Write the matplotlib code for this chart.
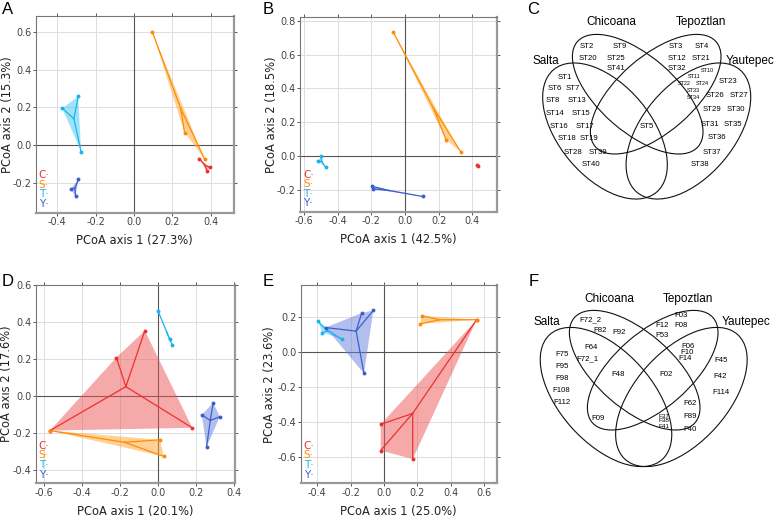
import numpy as np
import matplotlib
matplotlib.use("Agg")
import matplotlib.pyplot as plt
from matplotlib.patches import Ellipse, Polygon

plt.rcParams['font.family'] = 'DejaVu Sans'

# ---- PCoA data (axis1, axis2) per group ----
a_C = [(0.34, -0.07), (0.38, -0.135), (0.395, -0.115)]
a_S = [(0.096, 0.598), (0.369, -0.074), (0.264, 0.067)]
a_T = [(-0.374, 0.195), (-0.291, 0.259), (-0.276, -0.034)]
a_Y = [(-0.29, -0.18), (-0.33, -0.23), (-0.305, -0.27)]

b_C = [(0.43, -0.055), (0.435, -0.06)]
b_S = [(-0.07, 0.732), (0.331, 0.025), (0.244, 0.095)]
b_T = [(-0.50, 0.0), (-0.515, -0.032), (-0.472, -0.068)]
b_Y = [(-0.195, -0.18), (-0.19, -0.195), (0.105, -0.24)]

d_C = [(-0.57, -0.185), (-0.07, 0.355), (-0.22, 0.21), (0.18, -0.17)]
d_S = [(-0.57, -0.185), (0.01, -0.235), (0.03, -0.325)]
d_T = [(0.0, 0.46), (0.075, 0.275), (0.06, 0.31)]
d_Y = [(0.23, -0.10), (0.29, -0.035), (0.325, -0.11), (0.255, -0.275)]

e_C = [(0.555, 0.187), (-0.02, -0.413), (-0.02, -0.563), (0.172, -0.612)]
e_S = [(0.216, 0.163), (0.226, 0.21), (0.555, 0.187)]
e_T = [(-0.395, 0.177), (-0.37, 0.113), (-0.25, 0.075)]
e_Y = [(-0.35, 0.142), (-0.134, 0.225), (-0.064, 0.240), (-0.12, -0.121)]

groups = ['C', 'S', 'T', 'Y']
line_cols = {'C': '#EE3030', 'S': '#FF8C00', 'T': '#19B4EE', 'Y': '#3B5FD0'}
fill_cols = {'C': '#EE5555', 'S': '#FFA530', 'T': '#40C8F5', 'Y': '#6680DD'}

# ---- Venn data ----
venn_names = ['Salta', 'Chicoana', 'Tepoztlan', 'Yautepec']
c_only_salta = ['ST1', 'ST6', 'ST7', 'ST8', 'ST13', 'ST14', 'ST15', 'ST16', 'ST17',
                'ST18', 'ST19', 'ST28', 'ST39', 'ST40']
c_only_chic = ['ST2', 'ST9', 'ST20', 'ST25', 'ST41']
c_only_tepo = ['ST3', 'ST4', 'ST12', 'ST21', 'ST32']
c_tepo_yaut = ['ST10', 'ST11', 'ST22', 'ST24', 'ST33', 'ST34']
c_only_yaut = ['ST23', 'ST26', 'ST27', 'ST29', 'ST30', 'ST31', 'ST35', 'ST36', 'ST37', 'ST38']
c_all = ['ST5']

f_only_salta = ['F75', 'F95', 'F98', 'F108', 'F112']
f_only_chic = ['F72_2', 'F82', 'F92']
f_salta_chic = ['F64', 'F72_1']
f_only_tepo = ['F03', 'F08', 'F12', 'F53']
f_tepo_yaut = ['F06', 'F10', 'F14']
f_only_yaut = ['F45', 'F42', 'F114']
f_sct = ['F48']
f_cty = ['F02']
f_salta_tepo = ['F09']
f_scy = ['F37', 'F38', 'F41']
f_chic_yaut = ['F62', 'F89', 'F40']

W, H = 780, 518
fig = plt.figure(figsize=(W / 100, H / 100), dpi=100)


def px_axes(l, r, t, b):
    return fig.add_axes([l / W, 1 - b / H, (r - l) / W, (b - t) / H])


def convex_hull(pts):
    p = sorted(set(pts))
    if len(p) < 3:
        return p
    def cross(o, a, b):
        return (a[0] - o[0]) * (b[1] - o[1]) - (a[1] - o[1]) * (b[0] - o[0])
    lower, upper = [], []
    for q in p:
        while len(lower) >= 2 and cross(lower[-2], lower[-1], q) <= 0:
            lower.pop()
        lower.append(q)
    for q in reversed(p):
        while len(upper) >= 2 and cross(upper[-2], upper[-1], q) <= 0:
            upper.pop()
        upper.append(q)
    return lower[:-1] + upper[:-1]


def pcoa_panel(ax, data, xlim, ylim, xticks, yticks, xlab, ylab, ylab_x):
    ax.set_xlim(xlim)
    ax.set_ylim(ylim)
    ax.set_xticks(xticks)
    ax.set_yticks(yticks)
    ax.set_xticklabels([f'{v:.1f}' for v in xticks])
    ax.set_yticklabels([f'{v:.1f}' for v in yticks])
    ax.grid(True, color='#dddddd', lw=0.7)
    ax.set_axisbelow(True)
    ax.axhline(0, color='#555555', lw=0.8, zorder=1)
    ax.axvline(0, color='#555555', lw=0.8, zorder=1)
    ax.tick_params(labelsize=7, labelcolor='#444444', length=2, width=0.7,
                   color='#555555', direction='out', top=True, right=True, pad=1.2)
    for s in ['left', 'top']:
        ax.spines[s].set_color('#777777')
        ax.spines[s].set_linewidth(0.8)
    for s in ['right', 'bottom']:
        ax.spines[s].set_color('#999999')
        ax.spines[s].set_linewidth(1.6)
    ax.set_xlabel(xlab, fontsize=8.3, color='#222222', labelpad=5)
    ax.set_ylabel(ylab, fontsize=8.3, color='#222222')
    ax.yaxis.set_label_coords(ylab_x, 0.5)

    for g, pts in zip(groups, data):
        arr = np.array(pts)
        cx, cy = arr.mean(axis=0)
        h = convex_hull(pts)
        if len(h) >= 3:
            ax.add_patch(Polygon(h, closed=True, facecolor=fill_cols[g],
                                 edgecolor='none', alpha=0.5, zorder=2))
        for x, y in pts:
            ax.plot([cx, x], [cy, y], color=line_cols[g], lw=0.9, zorder=3)
        ax.plot(arr[:, 0], arr[:, 1], 'o', ms=1.8, color=line_cols[g], zorder=4)

    for i, g in enumerate(groups):
        ax.text(0.015, 0.19 - i * 0.049, g + '\u00b7', transform=ax.transAxes,
                color=line_cols[g], fontsize=7.5, va='center', ha='left')


axA = px_axes(35.7, 234, 16, 212.5)
pcoa_panel(axA, [a_C, a_S, a_T, a_Y], (-0.513, 0.522), (-0.355, 0.683),
           [-0.4, -0.2, 0.0, 0.2, 0.4], [-0.2, 0.0, 0.2, 0.4, 0.6],
           'PCoA axis 1 (27.3%)', 'PCoA axis 2 (15.3%)', -0.11)

axB = px_axes(300, 497.3, 16.7, 211.7)
pcoa_panel(axB, [b_C, b_S, b_T, b_Y], (-0.625, 0.549), (-0.33, 0.824),
           [-0.6, -0.4, -0.2, 0.0, 0.2, 0.4], [-0.2, 0.0, 0.2, 0.4, 0.6, 0.8],
           'PCoA axis 1 (42.5%)', 'PCoA axis 2 (18.5%)', -0.109)

axD = px_axes(35.7, 235, 285, 483.3)
pcoa_panel(axD, [d_C, d_S, d_T, d_Y], (-0.645, 0.405), (-0.47, 0.602),
           [-0.6, -0.4, -0.2, 0.0, 0.2, 0.4], [-0.4, -0.2, 0.0, 0.2, 0.4, 0.6],
           'PCoA axis 1 (20.1%)', 'PCoA axis 2 (17.6%)', -0.113)

axE = px_axes(300.7, 496.7, 285, 483.3)
pcoa_panel(axE, [e_C, e_S, e_T, e_Y], (-0.499, 0.675), (-0.751, 0.386),
           [-0.4, -0.2, 0.0, 0.2, 0.4, 0.6], [-0.6, -0.4, -0.2, 0.0, 0.2],
           'PCoA axis 1 (25.0%)', 'PCoA axis 2 (23.6%)', -0.126)

# ---- Venn diagrams, drawn in an axes measured in figure pixels ----
axV = px_axes(505, 780, 0, 518)
axV.set_xlim(505, 780)
axV.set_ylim(518, 0)
axV.axis('off')

# (cx, cy, semi-major, semi-minor, angle) for Salta, Chicoana, Tepoztlan, Yautepec
venn_c = [(605, 131, 80, 46, 50), (637.7, 94.2, 80, 38, 41),
          (655.7, 94.2, 80, 38, -41), (688.4, 131, 80, 46, -50)]
venn_f = [(606, 397, 84, 46, 48), (634.7, 370.2, 80, 38, 41),
          (652.7, 370.2, 80, 38, -41), (681.4, 397, 84, 46, -48)]


def draw_venn(shape, name_pos):
    for (cx, cy, a, b, ang) in shape:
        axV.add_patch(Ellipse((cx, cy), 2 * a, 2 * b, angle=ang, fill=False,
                              edgecolor='#111111', lw=0.8))
    for name, (x, y) in zip(venn_names, name_pos):
        axV.text(x, y, name, fontsize=8.5, family='Liberation Sans', ha='center', va='center')


def place(labels, positions, size=5.6):
    for lab, (x, y) in zip(labels, positions):
        axV.text(x, y, lab, fontsize=size, family='Liberation Sans', ha='center', va='center')


draw_venn(venn_c, [(546, 61), (611.7, 22), (700.7, 22), (750, 60.7)])
place(c_only_salta, [(565, 77.3), (554.3, 88.3), (573.3, 88.3), (553.3, 100), (576.7, 100),
                     (555, 113.3), (580.7, 113.3), (559.3, 126), (585, 126), (566.7, 138.3),
                     (589.3, 138.3), (573.3, 152.7), (598.3, 152.7), (591, 164.3)])
place(c_only_chic, [(586.7, 46.7), (620, 46.7), (588.3, 58.3), (616, 58.3), (616, 69)])
place(c_only_tepo, [(675.7, 46.7), (701.7, 46.7), (676.7, 58.3), (700.7, 58.3), (676.7, 69)])
place(c_tepo_yaut, [(707.3, 71), (694, 76.7), (684.3, 83.3), (702.7, 83.3), (693.3, 90.7),
                    (693.3, 97.7)], size=4.0)
place(c_only_yaut, [(728.3, 81.7), (715, 95.7), (739.3, 95.7), (711.7, 109.3), (736, 109.3),
                    (710, 125), (732.7, 125), (716.7, 137.3), (711.7, 152.7), (700, 165)])
place(c_all, [(646.7, 126)])

draw_venn(venn_f, [(546.7, 321.7), (609.3, 299), (687.7, 299), (746, 321.7)])
place(f_only_salta, [(561.7, 355), (561.7, 366.7), (561.7, 378.3), (561.7, 390), (561.7, 402.7)])
place(f_only_chic, [(590, 320), (600, 331), (619.3, 332)])
place(f_salta_chic, [(591, 347.7), (587.3, 359)])
place(f_only_tepo, [(681, 315.7), (681, 325.7), (661.7, 325.7), (661.7, 335.7)])
place(f_tepo_yaut, [(688.3, 346), (687.3, 352.3), (685, 359)])
place(f_only_yaut, [(720.7, 361), (720, 376.7), (720.7, 392.7)])
place(f_sct, [(618.3, 375)])
place(f_cty, [(666, 375)])
place(f_salta_tepo, [(598.3, 418.3)])
place(f_scy, [(664, 416), (664, 421), (664, 426)], size=4.6)
place(f_chic_yaut, [(690, 403.3), (690, 416), (690, 429.3)])

# panel letters
for lab, x, y in [('A', 2, 9), ('B', 263, 9), ('C', 527, 9),
                  ('D', 2, 281), ('E', 263, 281), ('F', 529, 281)]:
    fig.text(x / W, 1 - y / H, lab, fontsize=12, family='Liberation Sans', va='center')

fig.savefig('out.png', dpi=100)
